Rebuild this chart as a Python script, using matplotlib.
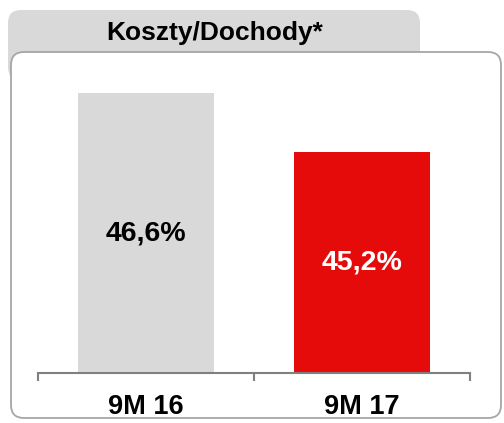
import matplotlib.pyplot as plt
from matplotlib.patches import FancyBboxPatch

plt.rcParams['font.family'] = ['Liberation Sans', 'DejaVu Sans']

# dane
kategorie = ['9M 16', '9M 17']
wartosci = [46.6, 45.2]
etykiety = ['46,6%', '45,2%']
kolory = ['#d9d9d9', '#e50b0b']
kolory_tekstu = ['#000000', '#ffffff']
tytul = 'Koszty/Dochody*'

W, H = 504, 423
fig = plt.figure(figsize=(W / 100, H / 100), dpi=100)

# tlo w pikselach
bg = fig.add_axes([0, 0, 1, 1], zorder=0)
bg.set_xlim(0, W)
bg.set_ylim(H, 0)
bg.axis('off')

# zakladka z tytulem
bg.add_patch(FancyBboxPatch((8, 10), 412, 70, boxstyle='round,pad=0,rounding_size=13',
                            facecolor='#d9d9d9', edgecolor='none'))
# ramka glowna
bg.add_patch(FancyBboxPatch((11, 52), 490, 366, boxstyle='round,pad=0,rounding_size=13',
                            facecolor='white', edgecolor='#a6a6a6', linewidth=1.3))
bg.text(215, 33, tytul, ha='center', va='center', fontsize=19, fontweight='bold')

# wykres slupkowy
y0 = 40.0
px_per_unit = 280 / 6.6
ax_bottom_px, ax_top_px = 373, 52
ax = fig.add_axes([38 / W, (H - ax_bottom_px) / H, 432 / W, (ax_bottom_px - ax_top_px) / H], zorder=1)
ax.patch.set_alpha(0)
ax.set_xlim(-0.5, 1.5)
ax.set_ylim(y0, y0 + (ax_bottom_px - ax_top_px) / px_per_unit)

x = range(len(kategorie))
ax.bar(x, [v - y0 for v in wartosci], bottom=y0, width=0.63, color=kolory)
for i, v in enumerate(wartosci):
    ax.text(i, (v + y0) / 2, etykiety[i], ha='center', va='center', fontsize=20.5,
            fontweight='bold', color=kolory_tekstu[i])

for s in ['top', 'right', 'left']:
    ax.spines[s].set_visible(False)
ax.spines['bottom'].set_color('#808080')
ax.spines['bottom'].set_linewidth(1.5)
ax.set_yticks([])
ax.set_xticks([-0.5, 0.5, 1.5])
ax.set_xticklabels([])
ax.tick_params(axis='x', which='major', direction='out', length=6, width=1.5, color='#808080')
ax.set_xticks(list(x), minor=True)
ax.set_xticklabels(kategorie, minor=True, fontsize=19.5, fontweight='bold')
ax.tick_params(axis='x', which='minor', length=0, pad=15)

fig.savefig('out.png', dpi=100)
